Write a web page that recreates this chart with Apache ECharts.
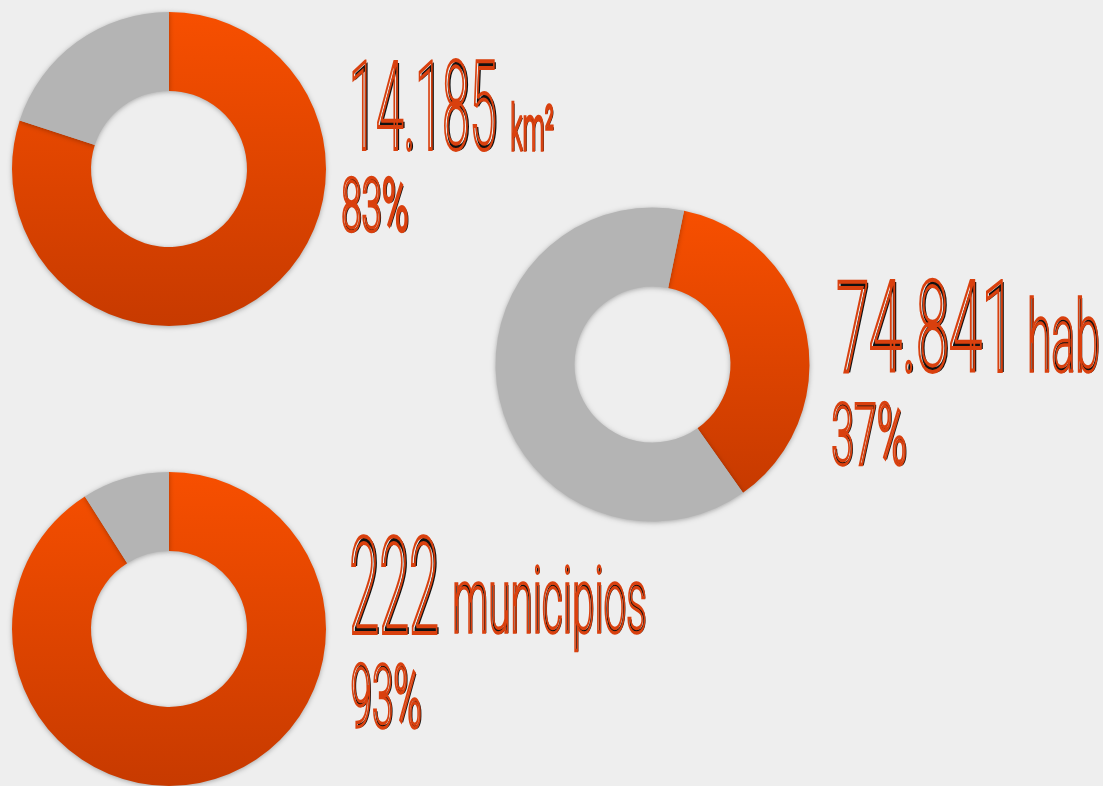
<!DOCTYPE html>
<html>
<head>
<meta charset="utf-8">
<script src="https://cdn.jsdelivr.net/npm/echarts@6/dist/echarts.min.js"></script>
<style>
html,body{margin:0;padding:0;background:#eeeeee;}
#chart{width:1103px;height:786px;}
</style>
</head>
<body>
<div id="chart"></div>
<script>
// valores
var bigValues = ['14.185', '74.841', '222'];
var units = ['km\u00b2', 'hab', 'municipios'];
var pctLabels = ['83%', '37%', '93%'];
var shareValues = [80, 37, 91];   // parte naranja (como se ve dibujada)
var restValues = [20, 63, 9];     // parte gris

var FONT = 'Roboto';
var WEIGHT = '300';
var ORANGE_LINE = '#d9400e';

var myChart = echarts.init(document.getElementById('chart'));

// medir texto para ajustarlo a su caja
var cv = document.createElement('canvas');
var ctx = cv.getContext('2d');
ctx.textBaseline = 'middle';
ctx.textAlign = 'left';

// texto condensado: sombra negra debajo + contorno naranja encima
function fitText(str, ref, left, right, top, bottom, lw, off) {
	ctx.font = WEIGHT + ' 100px ' + FONT;
	var r = ctx.measureText(ref);
	var inkH = r.actualBoundingBoxAscent + r.actualBoundingBoxDescent;
	var size = 100 * (bottom - top) / inkH;
	var y = top + r.actualBoundingBoxAscent * size / 100;
	var m = ctx.measureText(str);
	var inkW = (m.actualBoundingBoxLeft + m.actualBoundingBoxRight) * size / 100;
	var sx = (right - left) / inkW;
	var bearing = -m.actualBoundingBoxLeft * size / 100;
	var x = left - bearing * sx;
	var font = WEIGHT + ' ' + size.toFixed(1) + 'px ' + FONT;
	return [ {
		type : 'text',
		x : x + off,
		y : y + 1,
		scaleX : sx,
		silent : true,
		style : {
			text : str,
			font : font,
			fill : '#111',
			textAlign : 'left',
			textVerticalAlign : 'middle'
		}
	}, {
		type : 'text',
		x : x,
		y : y,
		scaleX : sx,
		silent : true,
		style : {
			text : str,
			font : font,
			fill : 'rgba(0,0,0,0)',
			stroke : ORANGE_LINE,
			lineWidth : lw,
			textAlign : 'left',
			textVerticalAlign : 'middle'
		}
	} ];
}

function orangeGrad() {
	return new echarts.graphic.LinearGradient(0, 0, 0, 1, [ {
		offset : 0,
		color : '#f74f00'
	}, {
		offset : 1,
		color : '#c73a00'
	} ]);
}

function donut(i, center, startAngle) {
	return {
		type : 'pie',
		center : center,
		radius : [ 78, 157 ],
		startAngle : startAngle,
		clockwise : true,
		silent : true,
		label : { show : false },
		labelLine : { show : false },
		emphasis : { disabled : true },
		itemStyle : {
			shadowBlur : 5,
			shadowColor : 'rgba(0,0,0,0.3)',
			shadowOffsetY : 1
		},
		data : [ {
			value : shareValues[i],
			itemStyle : { color : orangeGrad() }
		}, {
			value : restValues[i],
			itemStyle : { color : '#b4b4b4' }
		} ]
	};
}

var texts = [].concat(
	fitText(bigValues[0], '14185', 353, 495, 60, 150, 4, 2),
	fitText(units[0], 'k', 512, 553, 102, 150, 3.5, 1),
	fitText(pctLabels[0], '83', 343, 407, 177, 232, 3.5, 1.5),
	fitText(bigValues[1], '74841', 838, 1002, 278, 372, 4, 2),
	fitText(units[1], 'hab', 1030, 1098, 297, 372, 3.5, 1),
	fitText(pctLabels[1], '37', 833, 905, 402, 465, 3.5, 1.5),
	fitText(bigValues[2], '222', 352, 437, 535, 633, 4, 2),
	fitText(units[2], 'munc', 455, 645, 583, 633, 3.5, 1),
	fitText(pctLabels[2], '93', 352, 420, 663, 728, 3.5, 1.5)
);

var option = {
	backgroundColor : '#eeeeee',
	animation : false,
	series : [
		donut(0, [ 169, 169 ], 90),
		donut(1, [ 652.5, 364.5 ], 78.4),
		donut(2, [ 169, 629 ], 90)
	],
	graphic : texts
};
myChart.setOption(option);
</script>
</body>
</html>
